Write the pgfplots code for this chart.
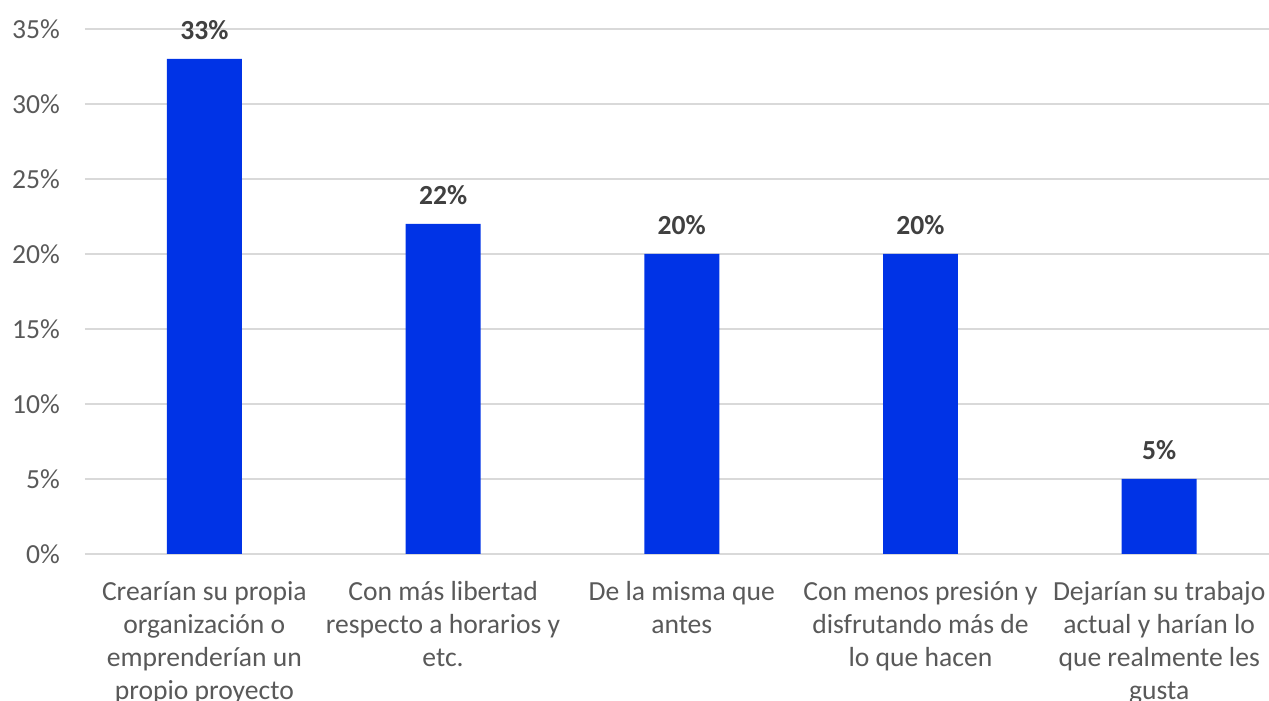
\documentclass[border=0pt]{standalone}
\usepackage{pgfplots}
\pgfplotsset{compat=1.18}
\usepackage{fontspec}
\setmainfont{Carlito}
\definecolor{barblue}{RGB}{0,51,230}
\definecolor{txtgray}{RGB}{89,89,89}
\definecolor{lblgray}{RGB}{64,64,64}
\definecolor{gridgray}{RGB}{217,217,217}
\begin{document}
\begin{tikzpicture}[x=1pt,y=1pt]
\begin{axis}[
  at={(0,0)}, anchor=south west,
  scale only axis,
  width=592pt, height=262.5pt,
  xmin=-0.5, xmax=4.46,
  ymin=0, ymax=35,
  ytick={0,5,10,15,20,25,30,35},
  yticklabel={\pgfmathprintnumber{\tick}\%},
  /pgf/number format/assume math mode=true,
  xtick={0,1,2,3,4},
  xticklabels={{Crearían su propia\\organización o\\emprenderían un\\propio proyecto},
               {Con más libertad\\respecto a horarios y\\etc.},
               {De la misma que\\antes},
               {Con menos presión y\\disfrutando más de\\lo que hacen},
               {Dejarían su trabajo\\actual y harían lo\\que realmente les\\gusta}},
  xticklabel style={align=center, font=\fontsize{13.8}{16.5}\selectfont, text=txtgray, anchor=north, yshift=-10pt},
  yticklabel style={font=\fontsize{13.8}{15}\selectfont, text=txtgray, anchor=east, xshift=-9pt},
  major tick length=0pt,
  axis line style={draw=none},
  ymajorgrids,
  grid style={gridgray, line width=0.7pt},
  ybar,
  bar width=0.314,
  nodes near coords={\pgfmathprintnumber{\pgfplotspointmeta}\%},
  nodes near coords style={font=\bfseries\fontsize{13.8}{15}\selectfont, text=lblgray, yshift=6pt},
  clip=false,
]
\addplot[fill=barblue, draw=none] coordinates {(0,33) (1,22) (2,20) (3,20) (4,5)};
\end{axis}
\pgfresetboundingbox
\useasboundingbox (-42.5pt,-73.5pt) rectangle (592pt,277pt);
\end{tikzpicture}
\end{document}
